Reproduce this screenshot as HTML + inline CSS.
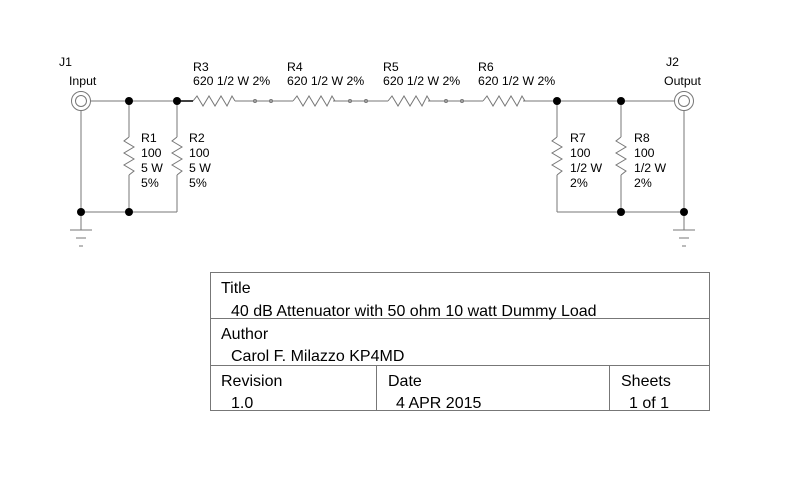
<!DOCTYPE html>
<html><head><style>
body{margin:0;background:#fff}
svg{display:block}
text{font-family:"Liberation Sans",Arial,sans-serif;fill:#000}
.s{font-size:12.3px}
.t{font-size:16px}
</style></head><body>
<svg width="800" height="480" viewBox="0 0 800 480">
<g stroke="#777" stroke-width="1" fill="none">
<line x1="90" y1="101" x2="193" y2="101"/>
<line x1="235" y1="101" x2="293" y2="101"/>
<line x1="333" y1="101" x2="388" y2="101"/>
<line x1="428" y1="101" x2="483" y2="101"/>
<line x1="523" y1="101" x2="674" y2="101"/>
<line x1="81" y1="212" x2="177" y2="212"/>
<line x1="557" y1="212" x2="684" y2="212"/>
<line x1="81" y1="110" x2="81" y2="230"/>
<line x1="684" y1="110" x2="684" y2="230"/>
<line x1="129" y1="101" x2="129" y2="137"/><line x1="129" y1="175" x2="129" y2="212"/>
<line x1="177" y1="101" x2="177" y2="137"/><line x1="177" y1="175" x2="177" y2="212"/>
<line x1="557" y1="101" x2="557" y2="137"/><line x1="557" y1="175" x2="557" y2="212"/>
<line x1="621" y1="101" x2="621" y2="137"/><line x1="621" y1="175" x2="621" y2="212"/>
<polyline points="193,101 197,96 203,106 209,96 215,106 221,96 227,106 232,96 235,101"/>
<polyline points="293,101 297,96 303,106 309,96 315,106 321,96 327,106 332,96 335,101"/>
<polyline points="388,101 392,96 398,106 404,96 410,106 416,96 422,106 427,96 430,101"/>
<polyline points="483,101 487,96 493,106 499,96 505,106 511,96 517,106 522,96 525,101"/>
<polyline points="129,137 124,141 134,147 124,153 134,159 124,165 134,171 129,175"/>
<polyline points="177,137 172,141 182,147 172,153 182,159 172,165 182,171 177,175"/>
<polyline points="557,137 552,141 562,147 552,153 562,159 552,165 562,171 557,175"/>
<polyline points="621,137 616,141 626,147 616,153 626,159 616,165 626,171 621,175"/>
<circle cx="81" cy="101" r="9.5"/><circle cx="81" cy="101" r="5.5"/>
<circle cx="684" cy="101" r="9.5"/><circle cx="684" cy="101" r="5.5"/>
<circle cx="255" cy="101" r="1.5"/><circle cx="271" cy="101" r="1.5"/>
<circle cx="350" cy="101" r="1.5"/><circle cx="366" cy="101" r="1.5"/>
<circle cx="446" cy="101" r="1.5"/><circle cx="462" cy="101" r="1.5"/>
<line x1="70" y1="230" x2="92" y2="230"/><line x1="76" y1="238" x2="86" y2="238"/><line x1="79" y1="246" x2="83" y2="246"/>
<line x1="673" y1="230" x2="695" y2="230"/><line x1="679" y1="238" x2="689" y2="238"/><line x1="682" y1="246" x2="686" y2="246"/>
<rect x="210.5" y="272.5" width="499" height="138"/>
<line x1="210" y1="318.5" x2="710" y2="318.5"/>
<line x1="210" y1="365.5" x2="710" y2="365.5"/>
<line x1="376.5" y1="365" x2="376.5" y2="411"/>
<line x1="609.5" y1="365" x2="609.5" y2="411"/>
</g>
<line x1="177" y1="101" x2="193" y2="101" stroke="#000" stroke-width="1.5"/>
<g fill="#000">
<circle cx="129" cy="101" r="4"/><circle cx="177" cy="101" r="4"/>
<circle cx="81" cy="212" r="4"/><circle cx="129" cy="212" r="4"/>
<circle cx="557" cy="101" r="4"/><circle cx="621" cy="101" r="4"/>
<circle cx="621" cy="212" r="4"/><circle cx="684" cy="212" r="4"/>
</g>
<g class="s">
<text x="59" y="66">J1</text><text x="69" y="85">Input</text>
<text x="666" y="66">J2</text><text x="664" y="85">Output</text>
<text x="193" y="71">R3</text><text x="193" y="85">620 1/2 W 2%</text>
<text x="287" y="71">R4</text><text x="287" y="85">620 1/2 W 2%</text>
<text x="383" y="71">R5</text><text x="383" y="85">620 1/2 W 2%</text>
<text x="478" y="71">R6</text><text x="478" y="85">620 1/2 W 2%</text>
<text x="141" y="142">R1</text><text x="141" y="157">100</text><text x="141" y="172">5 W</text><text x="141" y="187">5%</text>
<text x="189" y="142">R2</text><text x="189" y="157">100</text><text x="189" y="172">5 W</text><text x="189" y="187">5%</text>
<text x="570" y="142">R7</text><text x="570" y="157">100</text><text x="570" y="172">1/2 W</text><text x="570" y="187">2%</text>
<text x="634" y="142">R8</text><text x="634" y="157">100</text><text x="634" y="172">1/2 W</text><text x="634" y="187">2%</text>
</g>
<g class="t">
<text x="221" y="293">Title</text>
<text x="231" y="316">40 dB Attenuator with 50 ohm 10 watt Dummy Load</text>
<text x="221" y="339">Author</text>
<text x="231" y="361">Carol F. Milazzo KP4MD</text>
<text x="221" y="386">Revision</text>
<text x="231" y="408">1.0</text>
<text x="388" y="386">Date</text>
<text x="396" y="408">4 APR 2015</text>
<text x="621" y="386">Sheets</text>
<text x="629" y="408">1 of 1</text>
</g>
</svg>
</body></html>
